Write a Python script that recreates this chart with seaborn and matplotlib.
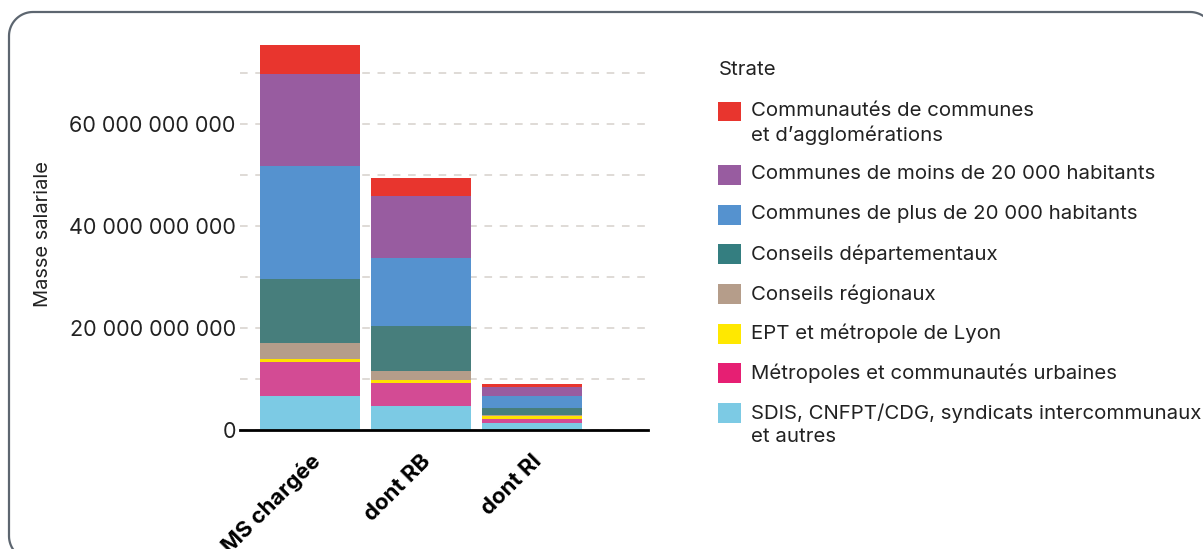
import matplotlib
matplotlib.use("Agg")
import numpy as np
import pandas as pd
import matplotlib.pyplot as plt
import matplotlib.patches as mpatches
from matplotlib.lines import Line2D
from matplotlib.ticker import MultipleLocator, FuncFormatter
import seaborn as sns

# categories on the x axis
categories = ["MS chargée", "dont RB", "dont RI"]

# strates, from the bottom of the stack to the top (values in milliards d'euros)
strates = [
    "SDIS, CNFPT/CDG, syndicats intercommunaux\net autres",
    "Métropoles et communautés urbaines",
    "EPT et métropole de Lyon",
    "Conseils régionaux",
    "Conseils départementaux",
    "Communes de plus de 20 000 habitants",
    "Communes de moins de 20 000 habitants",
    "Communautés de communes\net d’agglomérations",
]
sdis = [6.6, 4.7, 1.3]
metropoles = [6.7, 4.6, 0.9]
ept = [0.6, 0.6, 0.5]
regionaux = [3.2, 1.7, 0.2]
departementaux = [12.6, 8.7, 1.5]
communes_plus = [22.1, 13.5, 2.3]
communes_moins = [18.0, 12.0, 1.8]
communautes = [5.7, 3.7, 0.5]

bar_colors = ["#7ccae4", "#d34b94", "#ffe100", "#b59d8a",
              "#477e7c", "#5592cf", "#985ca0", "#e8352e"]
legend_colors = ["#7ccae4", "#e61f73", "#ffe800", "#b59d8a",
                 "#347e80", "#5592cf", "#985ca0", "#e8352e"]

values = [sdis, metropoles, ept, regionaux, departementaux,
          communes_plus, communes_moins, communautes]

df = pd.DataFrame(values, index=strates, columns=categories) * 1e9
cum = df.cumsum(axis=0)

sns.set_theme(style="white")
plt.rcParams["font.family"] = ["Inter", "DejaVu Sans"]
text_color = "#222222"

W, H = 1203, 549
fig = plt.figure(figsize=(W / 100, H / 100), dpi=100)
ax = fig.add_axes([240 / W, 1 - 430 / H, 408 / W, 392.7 / H])

# stacked bars: draw cumulative totals from top layer down
for i in range(len(strates) - 1, -1, -1):
    layer = pd.DataFrame({"cat": categories, "val": cum.iloc[i].values})
    sns.barplot(data=layer, x="cat", y="val", order=categories,
                color=bar_colors[i], saturation=1, width=0.9,
                linewidth=0, ax=ax, zorder=2)

ax.set_xlim(-0.632, 3.05)
ax.set_ylim(0, 77e9)
ax.yaxis.set_major_locator(MultipleLocator(20e9))
ax.yaxis.set_minor_locator(MultipleLocator(10e9))
ax.yaxis.set_major_formatter(FuncFormatter(lambda v, p: f"{v:,.0f}".replace(",", " ")))
ax.grid(axis="y", which="both", color="#d6d1cc", linestyle=(0, (5, 5)), linewidth=1.1, zorder=0)
ax.set_axisbelow(True)

for s in ["top", "right", "left"]:
    ax.spines[s].set_visible(False)
ax.spines["bottom"].set_color("black")
ax.spines["bottom"].set_linewidth(2)
ax.spines["bottom"].set_zorder(3)

ax.tick_params(axis="y", which="both", length=0, pad=3, labelsize=15.5, labelcolor=text_color)
ax.tick_params(axis="x", length=0, pad=15, labelsize=16, labelcolor="black")
for lab in ax.get_xticklabels():
    lab.set_rotation(45)
    lab.set_ha("right")
    lab.set_rotation_mode("anchor")
    lab.set_fontweight("bold")

ax.set_xlabel("")
ax.set_ylabel("Masse salariale", fontsize=14.5, color=text_color, labelpad=12)

# legend, top strate first
handles = [mpatches.Patch(facecolor=legend_colors[i], edgecolor="none")
           for i in range(len(strates) - 1, -1, -1)]
labels = [strates[i] for i in range(len(strates) - 1, -1, -1)]
leg = fig.legend(handles, labels, title="Strate", loc="upper left",
                 bbox_to_anchor=(700 / W, 1 - 43 / H), frameon=False,
                 fontsize=14.7, title_fontsize=14.7, handlelength=1.12, handleheight=1.12,
                 handletextpad=0.5, labelspacing=0.97, alignment="left")
for t in leg.get_texts():
    t.set_color(text_color)
    t.set_linespacing(1.4)
leg.get_title().set_color(text_color)
leg._legend_box.sep = 16
# square sits next to the first line of two-line labels
for col in leg._legend_handle_box.get_children():
    for item in col.get_children():
        item.align = "top"

# rounded frame around the whole figure (pixel coords, y from top)
r = 24
x0, x1, y0, y1 = 9, 1214, 12, 560
t = np.linspace(0, np.pi / 2, 20)
tl = [(x0 + r - r * np.cos(a), y0 + r - r * np.sin(a)) for a in t]
tr = [(x1 - r + r * np.sin(a), y0 + r - r * np.cos(a)) for a in t]
bl = [(x0 + r - r * np.sin(a), y1 - r + r * np.cos(a)) for a in t]
pts = bl + tl + tr + [(x1, y1)]
px = [p[0] / W for p in pts]
py = [1 - p[1] / H for p in pts]
fig.add_artist(Line2D(px, py, transform=fig.transFigure, color="#5d6670",
                      linewidth=1.6, solid_capstyle="round"))

fig.savefig("out.png", dpi=100, bbox_inches=None)
